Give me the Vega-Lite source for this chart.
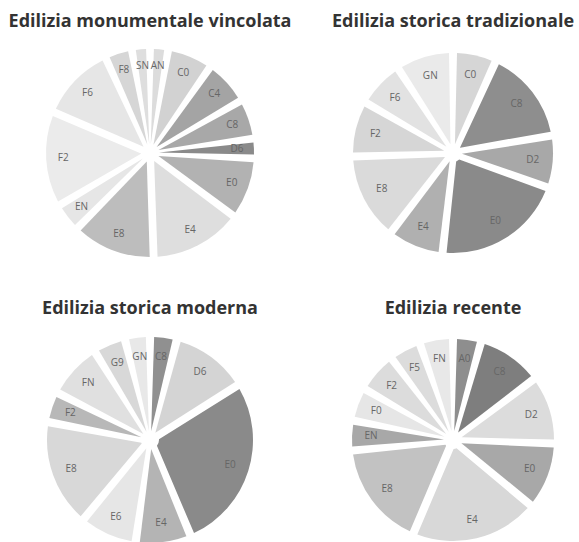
{
  "$schema": "https://vega.github.io/schema/vega-lite/v6.json",
  "padding": {"left": 8, "top": 13, "right": 0, "bottom": 0},
  "background": "white",
  "datasets": {
    "mon": [
      {"code": "AN", "v": 10}, {"code": "C0", "v": 25}, {"code": "C4", "v": 25}, {"code": "C8", "v": 22},
      {"code": "D6", "v": 11}, {"code": "E0", "v": 34}, {"code": "E4", "v": 51}, {"code": "E8", "v": 46},
      {"code": "EN", "v": 16}, {"code": "F2", "v": 53}, {"code": "F6", "v": 42}, {"code": "F8", "v": 15},
      {"code": "SN", "v": 10}
    ],
    "trad": [
      {"code": "C0", "v": 25}, {"code": "C8", "v": 55}, {"code": "D2", "v": 30}, {"code": "E0", "v": 76},
      {"code": "E4", "v": 32}, {"code": "E8", "v": 50}, {"code": "F2", "v": 32}, {"code": "F6", "v": 27},
      {"code": "GN", "v": 33}
    ],
    "mod": [
      {"code": "C8", "v": 15}, {"code": "D6", "v": 43}, {"code": "E0", "v": 99}, {"code": "E4", "v": 31},
      {"code": "E6", "v": 32}, {"code": "E8", "v": 60}, {"code": "F2", "v": 17}, {"code": "FN", "v": 31},
      {"code": "G9", "v": 18}, {"code": "GN", "v": 14}
    ],
    "rec": [
      {"code": "A0", "v": 16}, {"code": "C8", "v": 37}, {"code": "D2", "v": 39}, {"code": "E0", "v": 38},
      {"code": "E4", "v": 73}, {"code": "E8", "v": 61}, {"code": "EN", "v": 17}, {"code": "F0", "v": 19},
      {"code": "F2", "v": 23}, {"code": "F5", "v": 18}, {"code": "FN", "v": 19}
    ]
  },
  "columns": 2,
  "spacing": {"row": 67, "column": 53},
  "bounds": "flush",
  "resolve": {"scale": {"color": "independent", "theta": "independent"}},
  "concat": [
    {
      "title": "Edilizia monumentale vincolata",
      "width": 250, "height": 220,
      "data": {"name": "mon"},
      "encoding": {"theta": {"field": "v", "type": "quantitative", "stack": true}},
      "layer": [
        {"mark": {"type": "arc", "outerRadius": 104, "innerRadius": 9, "padAngle": 0.075},
         "encoding": {"color": {"field": "code", "type": "nominal", "legend": null,
           "scale": {"domain": ["AN","C0","C4","C8","D6","E0","E4","E8","EN","F2","F6","F8","SN"],
                     "range": ["#dcdcdc","#d2d2d2","#a4a4a4","#a8a8a8","#8a8a8a","#b2b2b2","#dedede","#bdbdbd","#e6e6e6","#ebebeb","#e6e6e6","#d6d6d6","#dedede"]}}}},
        {"mark": {"type": "text", "radius": 87, "fontSize": 10, "font": "Open Sans", "fill": "#666"},
         "encoding": {"text": {"field": "code"}, "detail": {"field": "code"}}}
      ]
    },
    {
      "title": "Edilizia storica tradizionale",
      "width": 250, "height": 220,
      "data": {"name": "trad"},
      "encoding": {"theta": {"field": "v", "type": "quantitative", "stack": true}},
      "layer": [
        {"mark": {"type": "arc", "outerRadius": 100, "innerRadius": 9, "padAngle": 0.08},
         "encoding": {"color": {"field": "code", "type": "nominal", "legend": null,
           "scale": {"domain": ["C0","C8","D2","E0","E4","E8","F2","F6","GN"],
                     "range": ["#d6d6d6","#8e8e8e","#a8a8a8","#8a8a8a","#b0b0b0","#dadada","#d6d6d6","#e2e2e2","#eaeaea"]}}}},
        {"mark": {"type": "text", "radius": 80, "fontSize": 10, "font": "Open Sans", "fill": "#666"},
         "encoding": {"text": {"field": "code"}, "detail": {"field": "code"}}}
      ]
    },
    {
      "title": "Edilizia storica moderna",
      "width": 250, "height": 220,
      "data": {"name": "mod"},
      "encoding": {"theta": {"field": "v", "type": "quantitative", "stack": true}},
      "layer": [
        {"mark": {"type": "arc", "outerRadius": 103, "innerRadius": 9, "padAngle": 0.08},
         "encoding": {"color": {"field": "code", "type": "nominal", "legend": null,
           "scale": {"domain": ["C8","D6","E0","E4","E6","E8","F2","FN","G9","GN"],
                     "range": ["#909090","#d4d4d4","#8a8a8a","#b4b4b4","#e6e6e6","#d8d8d8","#b8b8b8","#e0e0e0","#d8d8d8","#e8e8e8"]}}}},
        {"mark": {"type": "text", "radius": 84, "fontSize": 10, "font": "Open Sans", "fill": "#666"},
         "encoding": {"text": {"field": "code"}, "detail": {"field": "code"}}}
      ]
    },
    {
      "title": "Edilizia recente",
      "width": 250, "height": 220,
      "data": {"name": "rec"},
      "encoding": {"theta": {"field": "v", "type": "quantitative", "stack": true}},
      "layer": [
        {"mark": {"type": "arc", "outerRadius": 101, "innerRadius": 9, "padAngle": 0.08},
         "encoding": {"color": {"field": "code", "type": "nominal", "legend": null,
           "scale": {"domain": ["A0","C8","D2","E0","E4","E8","EN","F0","F2","F5","FN"],
                     "range": ["#8e8e8e","#7e7e7e","#dcdcdc","#a8a8a8","#d8d8d8","#c2c2c2","#a8a8a8","#e6e6e6","#dcdcdc","#dcdcdc","#e8e8e8"]}}}},
        {"mark": {"type": "text", "radius": 82, "fontSize": 10, "font": "Open Sans", "fill": "#666"},
         "encoding": {"text": {"field": "code"}, "detail": {"field": "code"}}}
      ]
    }
  ],
  "config": {
    "view": {"stroke": null},
    "title": {"font": "Open Sans", "fontSize": 18, "fontWeight": "bold", "color": "#333", "offset": 12}
  }
}
